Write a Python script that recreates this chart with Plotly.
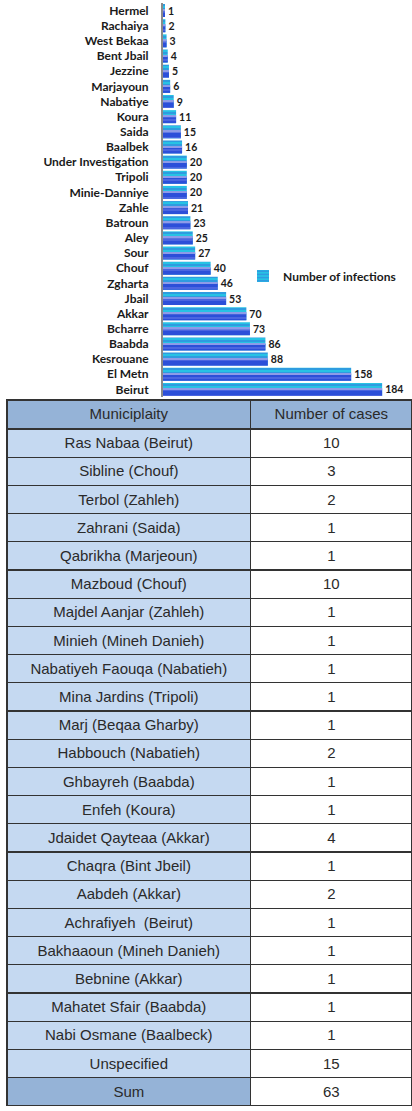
import plotly.graph_objects as go

districts = ["Hermel", "Rachaiya", "West Bekaa", "Bent Jbail", "Jezzine", "Marjayoun",
             "Nabatiye", "Koura", "Saida", "Baalbek", "Under Investigation", "Tripoli",
             "Minie-Danniye", "Zahle", "Batroun", "Aley", "Sour", "Chouf", "Zgharta",
             "Jbail", "Akkar", "Bcharre", "Baabda", "Kesrouane", "El Metn", "Beirut"]
infections = [1, 2, 3, 4, 5, 6, 9, 11, 15, 16, 20, 20, 20, 21, 23, 25, 27, 40, 46,
              53, 70, 73, 86, 88, 158, 184]

municipalities = ["Ras Nabaa (Beirut)", "Sibline (Chouf)", "Terbol (Zahleh)", "Zahrani (Saida)",
                  "Qabrikha (Marjeoun)", "Mazboud (Chouf)", "Majdel Aanjar (Zahleh)",
                  "Minieh (Mineh Danieh)", "Nabatiyeh Faouqa (Nabatieh)", "Mina Jardins (Tripoli)",
                  "Marj (Beqaa Gharby)", "Habbouch (Nabatieh)", "Ghbayreh (Baabda)", "Enfeh (Koura)",
                  "Jdaidet Qayteaa (Akkar)", "Chaqra (Bint Jbeil)", "Aabdeh (Akkar)",
                  "Achrafiyeh  (Beirut)", "Bakhaaoun (Mineh Danieh)", "Bebnine (Akkar)",
                  "Mahatet Sfair (Baabda)", "Nabi Osmane (Baalbeck)", "Unspecified", "Sum"]
cases = [10, 3, 2, 1, 1, 10, 1, 1, 1, 1, 1, 2, 1, 1, 4, 1, 2, 1, 1, 1, 1, 1, 15, 63]
table_header = ["Municiplaity", "Number of cases"]

fig = go.Figure()

BW = 0.86
# base (legend) bar: cyan with blue stripes
fig.add_trace(go.Bar(
    y=districts, x=infections, orientation="h", name="Number of infections",
    width=BW, offset=-BW / 2,
    marker=dict(color="#27c2e4", line=dict(width=0),
                pattern=dict(shape="-", fgcolor="#3a55d8", bgcolor="#27c2e4", size=4, solidity=0.35)),
    text=infections, textposition="outside", cliponaxis=False,
    textfont=dict(family="Lato", size=10.5, color="#1a1a1a", weight="bold"),
    showlegend=True,
))
# lower half: blue
fig.add_trace(go.Bar(
    y=districts, x=infections, orientation="h", showlegend=False, hoverinfo="skip",
    width=BW * 0.5, offset=0,
    marker=dict(color="#2c4fd9", line=dict(width=0),
                pattern=dict(shape="-", fgcolor="#7181ea", bgcolor="#2c4fd9", size=6, solidity=0.3)),
))
# thin periwinkle stripe in the middle
fig.add_trace(go.Bar(
    y=districts, x=infections, orientation="h", showlegend=False, hoverinfo="skip",
    width=0.1, offset=-0.06,
    marker=dict(color="#8d9be8", line=dict(width=0)),
))

left_fill = ["#c5d9f1"] * (len(municipalities) - 1) + ["#95b3d7"]
right_fill = ["#ffffff"] * len(cases)
TFONT = "Liberation Sans, Arial, sans-serif"

fig.add_trace(go.Table(
    domain=dict(x=[7 / 412, 1.0], y=[4 / 1111, 711 / 1111]),
    columnwidth=[243, 161],
    header=dict(values=table_header, fill_color="#95b3d7", height=29,
                line=dict(color="#333333", width=1.3), align="center",
                font=dict(family=TFONT, size=15, color="#2a2a2a")),
    cells=dict(values=[municipalities, cases], fill_color=[left_fill, right_fill], height=28.2,
               line=dict(color="#333333", width=1.3), align="center",
               font=dict(family=TFONT, size=15, color="#2a2a2a")),
))

fig.update_layout(
    width=412, height=1111,
    margin=dict(l=0, r=0, t=0, b=0),
    paper_bgcolor="white", plot_bgcolor="white",
    barmode="overlay",
    xaxis=dict(domain=[163 / 412, 400 / 412], range=[0, 199], visible=False),
    yaxis=dict(domain=[714 / 1111, 1108 / 1111], autorange="reversed",
               showline=True, linecolor="#8a8a8a", linewidth=2, showgrid=False,
               ticks="", ticklabelstandoff=10,
               tickfont=dict(family="Lato", size=12, color="#1a1a1a", weight="bold")),
    legend=dict(x=243 / 412, y=(1111 - 276) / 1111, xanchor="left", yanchor="middle",
                font=dict(family="Lato", size=12, color="#1a1a1a", weight="bold"),
                bgcolor="rgba(0,0,0,0)"),
    font=dict(family="Lato"),
)

fig.write_html("out.html", config={"displayModeBar": False},
               post_script="document.body.style.margin='0';document.body.style.overflow='hidden';")
